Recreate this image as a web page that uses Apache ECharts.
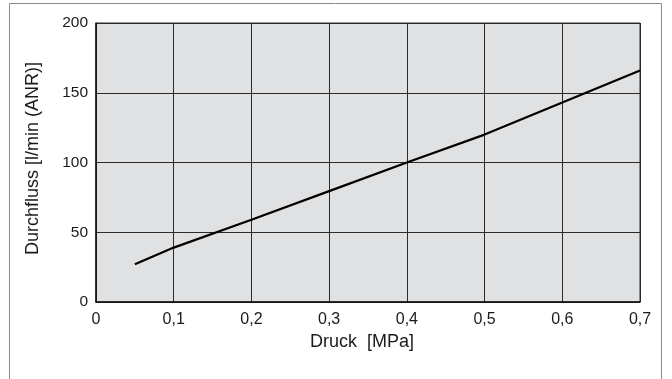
<!DOCTYPE html>
<html lang="de">
<head>
<meta charset="UTF-8">
<title>Durchfluss</title>
<style>
  html, body { margin: 0; padding: 0; background: #ffffff; }
  #chart { width: 672px; height: 379px; }
</style>
</head>
<body>
<div id="chart"></div>
<script src="https://cdn.jsdelivr.net/npm/echarts@6/dist/echarts.min.js"></script>
<script>
  // Druck [MPa] vs Durchfluss [l/min (ANR)]
  var druck = [0.05, 0.1, 0.2, 0.3, 0.4, 0.5, 0.6, 0.7];
  var durchfluss = [27, 39, 59, 79.5, 100, 120, 143, 166];
  var xTicks = [0, 0.1, 0.2, 0.3, 0.4, 0.5, 0.6, 0.7];
  var yTicks = [0, 50, 100, 150, 200];

  var points = [];
  for (var i = 0; i < druck.length; i++) {
    points.push([druck[i], durchfluss[i]]);
  }

  var font = 'Liberation Sans, Arial, sans-serif';
  var chart = echarts.init(document.getElementById('chart'), null, { renderer: 'canvas' });

  chart.setOption({
    animation: false,
    textStyle: { fontFamily: font },
    graphic: [{
      type: 'rect',
      shape: { x: 9.5, y: 3.5, width: 652, height: 420 },
      style: { fill: 'none', stroke: '#8a8a8a', lineWidth: 1 },
      z: -1
    }],
    grid: {
      left: 96, top: 23, right: 32, bottom: 77,
      show: true,
      backgroundColor: '#e0e1e3',
      borderColor: '#333333',
      borderWidth: 1
    },
    xAxis: {
      type: 'value',
      min: 0, max: 0.7, interval: 0.1,
      name: 'Druck  [MPa]',
      nameLocation: 'middle',
      nameGap: 31,
      nameTextStyle: { fontSize: 18, color: '#1a1a1a', fontFamily: font, padding: [0, 12, 0, 0] },
      axisLine: { show: true, lineStyle: { color: '#111111', width: 1.5 } },
      axisTick: { show: false },
      axisLabel: {
        margin: 10, fontSize: 16, color: '#1a1a1a', fontFamily: font,
        formatter: function (v) {
          var t = xTicks.filter(function (x) { return Math.abs(x - v) < 1e-9; });
          return t.length ? String(+t[0].toFixed(1)).replace('.', ',') : '';
        }
      },
      splitLine: { show: true, lineStyle: { color: '#2a2a2a', width: 1 } }
    },
    yAxis: {
      type: 'value',
      min: 0, max: 200, interval: 50,
      name: 'Durchfluss [l/min (ANR)]',
      nameLocation: 'middle',
      nameGap: 54,
      nameTextStyle: { fontSize: 18, color: '#1a1a1a', fontFamily: font, padding: [0, 0, 0, 8] },
      axisLine: { show: true, lineStyle: { color: '#111111', width: 1.5 } },
      axisTick: { show: false },
      axisLabel: {
        margin: 8, fontSize: 15.5, color: '#1a1a1a', fontFamily: font,
        formatter: function (v) { return yTicks.indexOf(v) >= 0 ? String(v) : ''; }
      },
      splitLine: { show: true, lineStyle: { color: '#2a2a2a', width: 1 } }
    },
    series: [{
      type: 'line',
      data: points,
      showSymbol: false,
      lineStyle: { color: '#000000', width: 2.2 },
      z: 5
    }]
  });
</script>
</body>
</html>
